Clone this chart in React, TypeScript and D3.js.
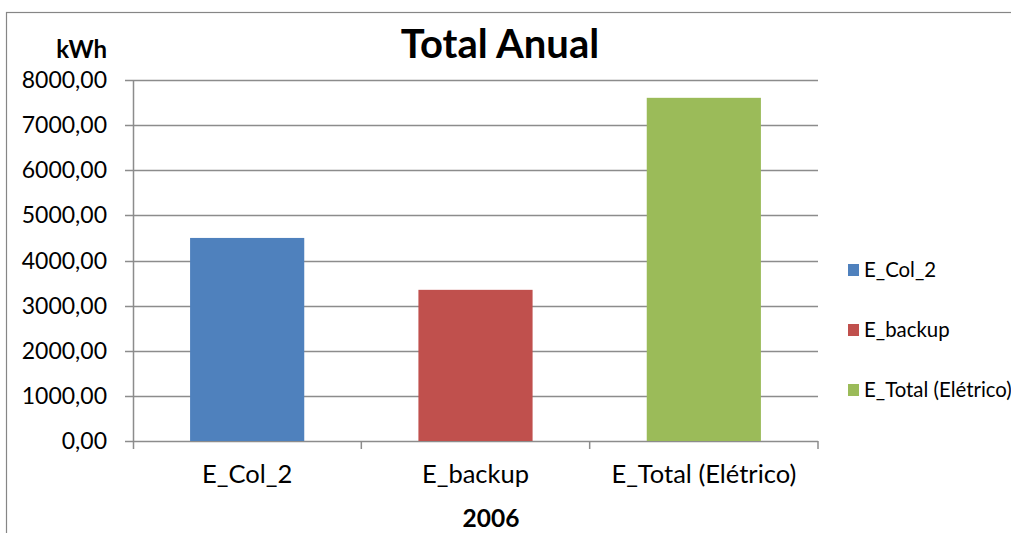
import React from "react";
import * as d3 from "d3";

const categories = ["E_Col_2", "E_backup", "E_Total (Elétrico)"];
const values = [4500, 3350, 7605];
const colors = ["#4F81BD", "#C0504D", "#9BBB59"];
const yTicks = [0, 1000, 2000, 3000, 4000, 5000, 6000, 7000, 8000];
const title = "Total Anual";
const yUnit = "kWh";
const xTitle = "2006";

const W = 1011;
const H = 533;
const FONT = "Lato, 'Open Sans', sans-serif";

export default function App() {
  const left = 133;
  const right = 818;
  const top = 80;
  const bottom = 441;

  const x = d3.scaleBand<string>().domain(categories).range([left, right]).paddingInner(0.5).paddingOuter(0.25);
  const y = d3.scaleLinear().domain([0, 8000]).range([bottom, top]);
  const fmt = (v: number) => d3.format(".2f")(v).replace(".", ",");

  const step = x.step();
  const boundaries = d3.range(categories.length + 1).map((i) => left + i * step);

  return (
    <svg width={W} height={H} style={{ position: "absolute", left: 0, top: 0 }} fontFamily={FONT}>
      <rect x={0} y={0} width={W} height={H} fill="#fff" />
      <rect x={6.5} y={12.5} width={1200} height={800} fill="none" stroke="#868686" strokeWidth={1.2} />
      {yTicks.map((t) => (
        <g key={t}>
          <line x1={125} x2={right} y1={Math.round(y(t)) + 0.5} y2={Math.round(y(t)) + 0.5} stroke="#8c8c8c" strokeWidth={1.5} />
          <text x={107} y={y(t)} dy="0.35em" textAnchor="end" fontSize={23} fill="#000">
            {fmt(t)}
          </text>
        </g>
      ))}
      <line x1={left + 0.5} x2={left + 0.5} y1={top} y2={bottom + 8} stroke="#8c8c8c" strokeWidth={1.5} />
      {boundaries.slice(1).map((b, i) => (
        <line key={i} x1={b} x2={b} y1={bottom} y2={bottom + 8} stroke="#8c8c8c" strokeWidth={1.5} />
      ))}
      {categories.map((c, i) => (
        <rect key={c} x={x(c)} y={y(values[i])} width={x.bandwidth()} height={y(0) - y(values[i])} fill={colors[i]} />
      ))}
      {categories.map((c) => (
        <text key={c} x={(x(c) as number) + x.bandwidth() / 2} y={483} textAnchor="middle" fontSize={25.5} fill="#000">
          {c}
        </text>
      ))}
      <text x={491} y={527} textAnchor="middle" fontSize={24.5} fontWeight="bold" fill="#000">
        {xTitle}
      </text>
      <text x={107} y={58} textAnchor="end" fontSize={24} fontWeight="bold" fill="#000">
        {yUnit}
      </text>
      <text x={500} y={58} textAnchor="middle" fontSize={40} fontWeight="bold" fill="#000">
        {title}
      </text>
      {categories.map((c, i) => (
        <g key={c} transform={`translate(848, ${270 + i * 60})`}>
          <rect x={0} y={-6} width={11} height={12} fill={colors[i]} />
          <text x={16} y={0} dy="0.35em" fontSize={20.4} fill="#000">
            {c}
          </text>
        </g>
      ))}
    </svg>
  );
}
